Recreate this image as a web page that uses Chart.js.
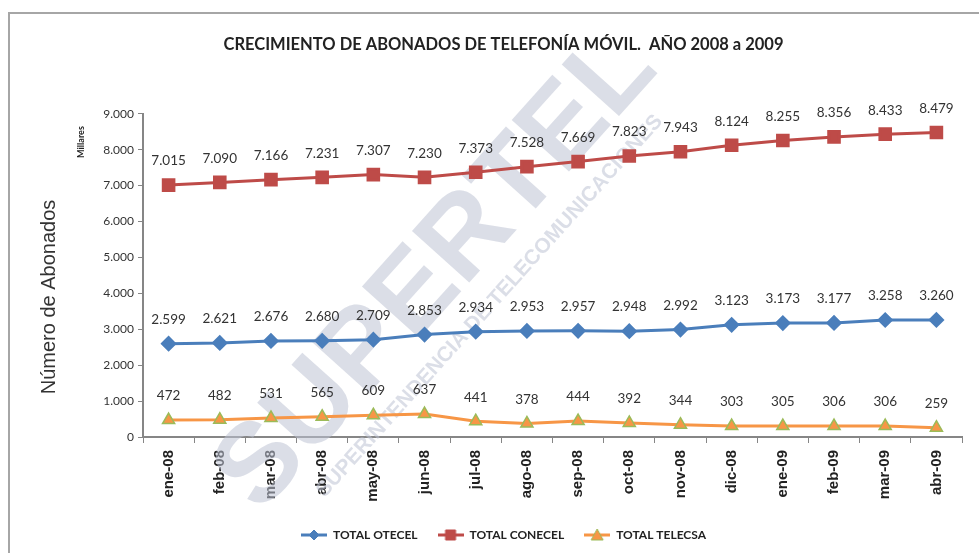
<!DOCTYPE html>
<html>
<head>
<meta charset="utf-8">
<script src="https://cdn.jsdelivr.net/npm/chart.js@4"></script>
<style>
  html, body { margin: 0; padding: 0; background: #fff; }
  #wrap { position: relative; width: 979px; height: 553px; }
</style>
</head>
<body>
<div id="wrap"><canvas id="subsChart" width="979" height="553"></canvas></div>
<script>
// datos (miles de abonados)
var meses = ["ene-08", "feb-08", "mar-08", "abr-08", "may-08", "jun-08", "jul-08", "ago-08",
             "sep-08", "oct-08", "nov-08", "dic-08", "ene-09", "feb-09", "mar-09", "abr-09"];
var otecel = [2599, 2621, 2676, 2680, 2709, 2853, 2934, 2953, 2957, 2948, 2992, 3123, 3173, 3177, 3258, 3260];
var conecel = [7015, 7090, 7166, 7231, 7307, 7230, 7373, 7528, 7669, 7823, 7943, 8124, 8255, 8356, 8433, 8479];
var telecsa = [472, 482, 531, 565, 609, 637, 441, 378, 444, 392, 344, 303, 305, 306, 306, 259];
var yTicks = [0, 1000, 2000, 3000, 4000, 5000, 6000, 7000, 8000, 9000];

var SANS = "Lato, 'Open Sans', sans-serif";

function fmt(v) {
    return String(v).replace(/\B(?=(\d{3})+(?!\d))/g, ".");
}

// icono de leyenda: linea + marcador
function legendIcon(color, style, fill, stroke) {
    var c = document.createElement("canvas");
    c.width = 26; c.height = 14;
    var g = c.getContext("2d");
    g.strokeStyle = color; g.lineWidth = 3;
    g.beginPath(); g.moveTo(0, 7); g.lineTo(26, 7); g.stroke();
    g.fillStyle = fill; g.strokeStyle = stroke; g.lineWidth = 1;
    g.beginPath();
    if (style === "rectRot") {
        g.moveTo(13, 2); g.lineTo(18, 7); g.lineTo(13, 12); g.lineTo(8, 7);
    } else if (style === "rect") {
        g.rect(8, 2, 10, 10);
    } else {
        g.moveTo(13, 1); g.lineTo(19, 12); g.lineTo(7, 12);
    }
    g.closePath(); g.fill(); g.stroke();
    return c;
}

var icons = [
    legendIcon("#4a7ebb", "rectRot", "#4a7ebb", "#4a7ebb"),
    legendIcon("#be4b48", "rect", "#be4b48", "#be4b48"),
    legendIcon("#f79646", "triangle", "#f79646", "#9bbb59")
];

// marco, marca de agua y textos del eje
var decor = {
    id: "decor",
    beforeDraw: function(chart) {
        var ctx = chart.ctx;
        ctx.save();
        ctx.strokeStyle = "#a6a6a6";
        ctx.lineWidth = 2;
        ctx.beginPath();
        ctx.moveTo(9, 553); ctx.lineTo(9, 13); ctx.lineTo(979, 13);
        ctx.stroke();
        ctx.restore();
    },
    beforeDatasetsDraw: function(chart) {
        var ctx = chart.ctx;
        ctx.save();
        ctx.translate(437, 272);
        ctx.rotate(-48 * Math.PI / 180);
        ctx.fillStyle = "rgba(190, 195, 212, 0.55)";
        ctx.textAlign = "center";
        ctx.textBaseline = "middle";
        ctx.font = "bold 112px 'Liberation Sans', sans-serif";
        ctx.fillText("SUPERTEL", 0, 0);
        ctx.font = "bold 21px 'Liberation Sans', sans-serif";
        ctx.fillText("SUPERINTENDENCIA DE TELECOMUNICACIONES", 10, 62);
        ctx.restore();
    },
    afterDatasetsDraw: function(chart) {
        var ctx = chart.ctx;
        ctx.save();
        ctx.fillStyle = "#333";
        ctx.font = "13.5px " + SANS;
        ctx.textAlign = "center";
        ctx.textBaseline = "middle";
        chart.data.datasets.forEach(function(ds, i) {
            chart.getDatasetMeta(i).data.forEach(function(pt, j) {
                ctx.fillText(fmt(ds.data[j]), pt.x, pt.y - 24);
            });
        });
        // titulo eje Y
        ctx.fillStyle = "#333";
        ctx.font = "20px 'Liberation Sans', sans-serif";
        ctx.translate(49, 297);
        ctx.rotate(-Math.PI / 2);
        ctx.fillText("Número de Abonados", 0, 0);
        ctx.restore();

        ctx.save();
        ctx.fillStyle = "#222";
        ctx.font = "bold 9px " + SANS;
        ctx.textAlign = "center";
        ctx.textBaseline = "middle";
        ctx.translate(81, 142);
        ctx.rotate(-Math.PI / 2);
        ctx.fillText("Millares", 0, 0);
        ctx.restore();
    }
};

var ctx = document.getElementById("subsChart").getContext("2d");
var subsChart = new Chart(ctx, {
    type: "line",
    data: {
        labels: meses,
        datasets: [{
            label: "TOTAL OTECEL",
            data: otecel,
            borderColor: "#4a7ebb",
            backgroundColor: "#4a7ebb",
            borderWidth: 3,
            pointStyle: "rectRot",
            pointRadius: 6,
            pointBackgroundColor: "#4a7ebb",
            pointBorderColor: "#4a7ebb"
        }, {
            label: "TOTAL CONECEL",
            data: conecel,
            borderColor: "#be4b48",
            backgroundColor: "#be4b48",
            borderWidth: 3,
            pointStyle: "rect",
            pointRadius: 7.5,
            pointBackgroundColor: "#be4b48",
            pointBorderColor: "#be4b48"
        }, {
            label: "TOTAL TELECSA",
            data: telecsa,
            borderColor: "#f79646",
            backgroundColor: "#f79646",
            borderWidth: 3,
            pointStyle: "triangle",
            pointRadius: 7,
            pointBackgroundColor: "#f79646",
            pointBorderColor: "#9bbb59",
            pointBorderWidth: 1.5
        }]
    },
    options: {
        responsive: false,
        animation: false,
        layout: { padding: { left: 45, right: 17, top: 0, bottom: 2 } },
        plugins: {
            title: {
                display: true,
                text: "CRECIMIENTO DE ABONADOS DE TELEFONÍA MÓVIL.  AÑO 2008 a 2009",
                color: "#222",
                font: { family: SANS, size: 16.5, weight: "bold" },
                padding: { top: 35, bottom: 59 }
            },
            legend: {
                position: "bottom",
                labels: {
                    usePointStyle: true,
                    pointStyleWidth: 26,
                    boxHeight: 12,
                    padding: 20,
                    color: "#222",
                    font: { family: "'Liberation Sans Narrow', " + SANS, size: 12, weight: "bold" },
                    generateLabels: function(chart) {
                        var items = Chart.defaults.plugins.legend.labels.generateLabels(chart);
                        items.forEach(function(it, i) { it.pointStyle = icons[i]; });
                        return items;
                    }
                }
            },
            tooltip: { enabled: false }
        },
        scales: {
            x: {
                offset: true,
                grid: { offset: true, drawOnChartArea: false, drawTicks: true, tickLength: 6, color: "#868686" },
                border: { color: "#868686", width: 2 },
                ticks: {
                    maxRotation: 90, minRotation: 90, autoSkip: false, padding: 7,
                    color: "#222",
                    font: { family: "'Liberation Sans', sans-serif", size: 15, weight: "bold" }
                },
                afterFit: function(scale) { scale.height = 72; }
            },
            y: {
                min: 0,
                max: 9000,
                afterBuildTicks: function(scale) {
                    scale.ticks = yTicks.map(function(v) { return { value: v }; });
                },
                grid: { drawOnChartArea: false, drawTicks: true, tickLength: 5, color: "#868686" },
                border: { color: "#868686", width: 2 },
                ticks: {
                    padding: 4,
                    color: "#333",
                    font: { family: SANS, size: 12 },
                    callback: function(v) { return fmt(v); }
                },
                afterFit: function(scale) { scale.width = 98; }
            }
        }
    },
    plugins: [decor]
});
</script>
</body>
</html>
